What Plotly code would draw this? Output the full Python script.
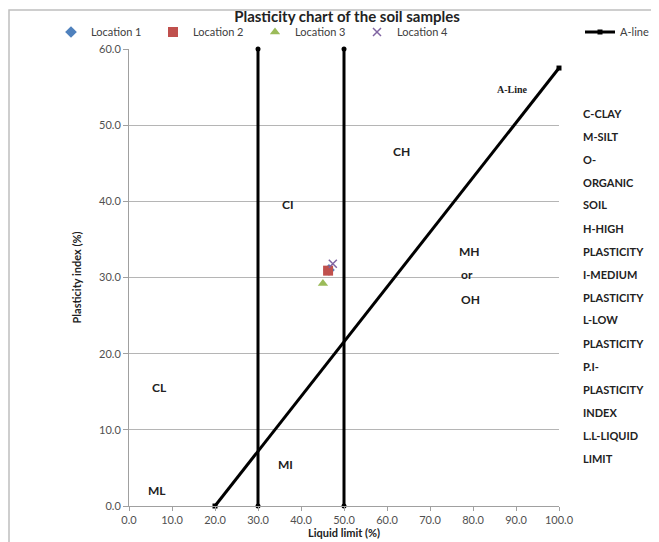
import plotly.graph_objects as go

# ---- data ----
location_names = ["Location 1", "Location 2", "Location 3", "Location 4"]
location_ll = [46.5, 46.3, 45.1, 47.4]
location_pi = [31.0, 30.9, 29.2, 31.8]
location_colors = ["#4F81BD", "#C0504D", "#9BBB59", "#8064A2"]
location_symbols = ["diamond", "square", "triangle-up", "x-thin"]
location_sizes = [9, 10, 9, 8]

aline_ll = [20, 100]
aline_pi = [0, 57.5]

vline1_ll = [30, 30]
vline1_pi = [0, 60]
vline2_ll = [50, 50]
vline2_pi = [0, 60]

zone_labels = ["CH", "CI", "MH", "or", "OH", "CL", "MI", "ML"]
zone_ll = [63.3, 37.0, 79.3, 78.5, 79.5, 7.2, 36.3, 6.5]
zone_pi = [46.6, 39.6, 33.4, 30.4, 27.1, 15.5, 5.4, 2.1]

key_lines = ["C-CLAY", "M-SILT", "O-", "ORGANIC", "SOIL", "H-HIGH", "PLASTICITY",
             "I-MEDIUM", "PLASTICITY", "L-LOW", "PLASTICITY", "P.I-", "PLASTICITY",
             "INDEX", "L.L-LIQUID", "LIMIT"]

x_ticks = [0, 10, 20, 30, 40, 50, 60, 70, 80, 90, 100]
y_ticks = [0, 10, 20, 30, 40, 50, 60]

FONT = "Lato"
W, H = 659, 542
OFF = 8                      # page body margin
PL, PT, PW, PH = 129, 49, 430, 457   # plot area on screen
ML, MT = PL - OFF, PT - OFF
MR = W - ML - PW
MB = H - MT - PH


def px(sx):
    return (sx - PL) / PW


def py(sy):
    return (PT + PH - sy) / PH


fig = go.Figure()

# vertical boundary lines
for xs, ys in [(vline1_ll, vline1_pi), (vline2_ll, vline2_pi)]:
    fig.add_trace(go.Scatter(x=xs, y=ys, mode="lines+markers", showlegend=False,
                             line=dict(color="black", width=3),
                             marker=dict(color="black", size=5), hoverinfo="skip",
                             cliponaxis=False))

# A-line
fig.add_trace(go.Scatter(x=aline_ll, y=aline_pi, mode="lines+markers", name="A-line",
                         line=dict(color="black", width=3),
                         marker=dict(color="black", size=5, symbol="square"),
                         legend="legend2", cliponaxis=False))

# sample points
for n, xv, yv, c, s, sz in zip(location_names, location_ll, location_pi,
                               location_colors, location_symbols, location_sizes):
    mk = dict(color=c, size=sz, symbol=s)
    if s == "x-thin":
        mk["line"] = dict(color=c, width=1.5)
    fig.add_trace(go.Scatter(x=[xv], y=[yv], mode="markers", name=n, marker=mk,
                             legend="legend"))

annotations = []
for t, xv, yv in zip(zone_labels, zone_ll, zone_pi):
    annotations.append(dict(x=xv, y=yv, xref="x", yref="y", text=t, showarrow=False,
                            font=dict(family=FONT, size=12, color="#222222",
                                      weight="bold")))

annotations.append(dict(x=89.3, y=54.7, xref="x", yref="y", text="A-Line",
                        showarrow=False,
                        font=dict(family="Liberation Serif", size=10, color="#222222",
                                  weight="bold")))

for i, t in enumerate(key_lines):
    annotations.append(dict(x=px(581), y=py(113 + i * 23),
                            xref="paper", yref="paper", text=t, showarrow=False,
                            xanchor="left", yanchor="middle",
                            font=dict(family=FONT, size=11, color="#222222",
                                      weight="bold")))

# outer frame of the chart
shapes = [dict(type="rect", xref="paper", yref="paper",
               x0=px(9), x1=px(W + 30), y0=py(H + 30), y1=py(10),
               line=dict(color="#BFBFBF", width=1.5), fillcolor="rgba(0,0,0,0)",
               layer="below")]

fig.update_layout(
    width=W, height=H,
    margin=dict(l=ML, r=MR, t=MT, b=MB, autoexpand=False),
    paper_bgcolor="white", plot_bgcolor="white",
    font=dict(family=FONT, size=11, color="#404040"),
    title=dict(text="Plasticity chart of the soil samples", x=(347 - OFF) / W,
               xanchor="center", y=1 - (17 - OFF) / H, yanchor="middle",
               font=dict(family=FONT, size=15, color="#222222", weight="bold")),
    legend=dict(orientation="h", xref="container", yref="container",
                x=(51 - OFF) / W, y=1 - (32 - OFF) / H, xanchor="left", yanchor="middle",
                font=dict(family=FONT, size=11, color="#404040"),
                bgcolor="rgba(0,0,0,0)", entrywidth=57, entrywidthmode="pixels"),
    legend2=dict(orientation="h", xref="container", yref="container",
                 x=(580 - OFF) / W, y=1 - (32 - OFF) / H, xanchor="left",
                 yanchor="middle",
                 font=dict(family=FONT, size=11, color="#404040"),
                 bgcolor="rgba(0,0,0,0)"),
    xaxis=dict(range=[0, 100], tickvals=x_ticks,
               ticktext=[f"{v:.1f}" for v in x_ticks],
               showgrid=False, zeroline=False, showline=True, linecolor="#A0A0A0",
               linewidth=1, ticks="outside", ticklen=4, tickcolor="#A0A0A0",
               tickfont=dict(family=FONT, size=11, color="#505050"),
               title=dict(text="Liquid limit (%)", standoff=1,
                          font=dict(family=FONT, size=11, color="#222222",
                                    weight="bold"))),
    yaxis=dict(range=[0, 60], tickvals=y_ticks,
               ticktext=[f"{v:.1f}" for v in y_ticks],
               showgrid=True, gridcolor="#B5B5B5", gridwidth=1,
               zeroline=False, showline=True, linecolor="#A0A0A0",
               linewidth=1, ticks="outside", ticklen=5, tickcolor="#A0A0A0",
               tickfont=dict(family=FONT, size=11, color="#505050"),
               title=dict(text="Plasticity index (%)", standoff=15,
                          font=dict(family=FONT, size=11, color="#222222",
                                    weight="bold"))),
    annotations=annotations,
    shapes=shapes,
)

fig.write_html("out.html")
